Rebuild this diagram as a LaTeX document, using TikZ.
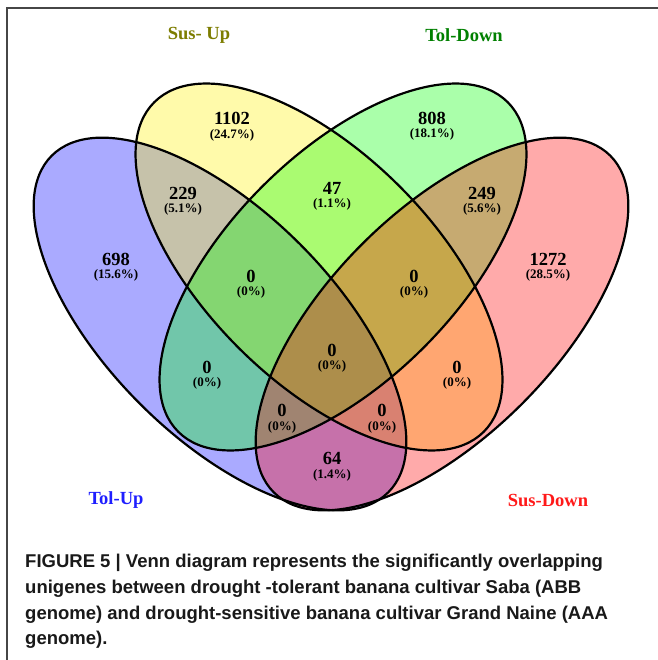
\documentclass[tikz,border=0pt]{standalone}
\usepackage{fontspec}
\setmainfont{Liberation Serif}
\newfontfamily\capfont{Liberation Sans}
\definecolor{framecol}{RGB}{70,70,70}
\definecolor{susupcol}{RGB}{125,125,0}
\definecolor{toldowncol}{RGB}{0,128,0}
\definecolor{tolupcol}{RGB}{30,30,255}
\definecolor{susdowncol}{RGB}{255,25,25}
\tikzset{
  vfill/.style={fill opacity=0.3333, draw=none},
  vline/.style={draw=black, line width=2.2pt},
  num/.style={font=\bfseries\fontsize{18.5}{20}\selectfont, inner sep=0pt},
  pct/.style={font=\bfseries\fontsize{13}{14}\selectfont, inner sep=0pt},
  cat/.style={font=\bfseries\fontsize{18.5}{20}\selectfont, inner sep=0pt},
  capline/.style={font=\capfont\bfseries\fontsize{18.5}{20}\selectfont, inner sep=0pt, anchor=base west, text=black!90}
}
\begin{document}
\begin{tikzpicture}[x=1pt,y=-1pt]
\useasboundingbox (0,0) rectangle (657,660);
\fill[white] (0,0) rectangle (657,660);
\draw[framecol, line width=1.5pt] (7,665) -- (7,8) -- (665,8);
% fills (blue, yellow, green, red)
\path[vfill, fill=blue, rotate around={-45:(220,324)}] (220,324) ellipse [x radius=238, y radius=113];
\path[vfill, fill=yellow, rotate around={-45:(319,267)}] (319,267) ellipse [x radius=233, y radius=114];
\path[vfill, fill=green, rotate around={45:(343,267)}] (343,267) ellipse [x radius=233, y radius=114];
\path[vfill, fill=red, rotate around={45:(442,324)}] (442,324) ellipse [x radius=238, y radius=113];
% outlines
\draw[vline, rotate around={-45:(220,324)}] (220,324) ellipse [x radius=238, y radius=113];
\draw[vline, rotate around={-45:(319,267)}] (319,267) ellipse [x radius=233, y radius=114];
\draw[vline, rotate around={45:(343,267)}] (343,267) ellipse [x radius=233, y radius=114];
\draw[vline, rotate around={45:(442,324)}] (442,324) ellipse [x radius=238, y radius=113];
% category labels
\node[cat, text=susupcol] (cSusUp) at (199,35) {Sus- Up};
\node[cat, text=toldowncol] (cTolDown) at (464,35) {Tol-Down};
\node[cat, text=tolupcol] (cTolUp) at (116,500) {Tol-Up};
\node[cat, text=susdowncol] (cSusDown) at (548,500) {Sus-Down};
% counts
\node[num] (n1) at (232,118) {1102}; \node[pct] (p1) at (232,135) {(24.7\%)};
\node[num] (n2) at (432,118) {808};  \node[pct] (p2) at (432,134) {(18.1\%)};
\node[num] (n3) at (183,193) {229};  \node[pct] (p3) at (183,209) {(5.1\%)};
\node[num] (n4) at (332,188) {47};   \node[pct] (p4) at (332,204) {(1.1\%)};
\node[num] (n5) at (482,193) {249};  \node[pct] (p5) at (482,209) {(5.6\%)};
\node[num] (n6) at (116,259) {698};  \node[pct] (p6) at (116,275) {(15.6\%)};
\node[num] (n7) at (548,259) {1272}; \node[pct] (p7) at (548,275) {(28.5\%)};
\node[num] (n8) at (251,276) {0};    \node[pct] (p8) at (251,292) {(0\%)};
\node[num] (n9) at (414,276) {0};    \node[pct] (p9) at (414,292) {(0\%)};
\node[num] (n10) at (332,350) {0};   \node[pct] (p10) at (332,366) {(0\%)};
\node[num] (n11) at (207,367) {0};   \node[pct] (p11) at (207,383) {(0\%)};
\node[num] (n12) at (457,367) {0};   \node[pct] (p12) at (457,383) {(0\%)};
\node[num] (n13) at (282,410) {0};   \node[pct] (p13) at (282,427) {(0\%)};
\node[num] (n14) at (382,410) {0};   \node[pct] (p14) at (382,427) {(0\%)};
\node[num] (n15) at (332,458) {64};  \node[pct] (p15) at (332,475) {(1.4\%)};
% caption
\node[capline] (cap1) at (25,567) {FIGURE 5 | Venn diagram represents the significantly overlapping};
\node[capline] (cap2) at (25,593) {unigenes between drought -tolerant banana cultivar Saba (ABB};
\node[capline] (cap3) at (25,619) {genome) and drought-sensitive banana cultivar Grand Naine (AAA};
\node[capline] (cap4) at (25,644) {genome).};
\end{tikzpicture}
\end{document}
